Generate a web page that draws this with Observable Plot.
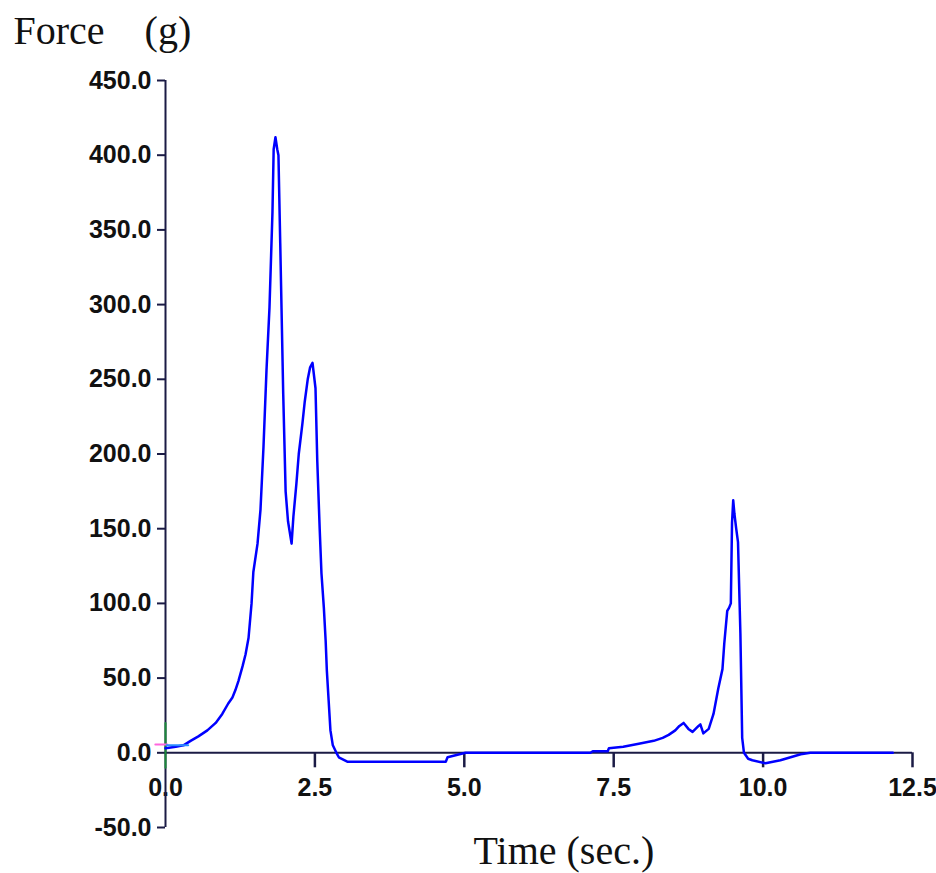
<!DOCTYPE html>
<html>
<head>
<meta charset="utf-8">
<script src="https://cdn.jsdelivr.net/npm/d3@7"></script>
<script src="https://cdn.jsdelivr.net/npm/@observablehq/plot@0.6"></script>
<style>
  html, body { margin: 0; padding: 0; background: #ffffff; }
</style>
</head>
<body>
<div id="chart"></div>
<script>
// Time (sec.) and Force (g)
const time = [0, 0.17, 0.30, 0.42, 0.55, 0.70, 0.84, 0.95, 1.05, 1.12, 1.17, 1.22, 1.29, 1.34, 1.39, 1.44, 1.47, 1.54, 1.59, 1.64, 1.69, 1.74, 1.79, 1.81, 1.84, 1.87, 1.89, 1.92, 1.97, 2.01, 2.05, 2.11, 2.14, 2.19, 2.23, 2.29, 2.33, 2.38, 2.42, 2.46, 2.51, 2.54, 2.58, 2.61, 2.65, 2.68, 2.70, 2.73, 2.76, 2.80, 2.86, 2.90, 3.05, 4.69, 4.72, 5.02, 7.11, 7.15, 7.40, 7.42, 7.66, 7.92, 8.17, 8.32, 8.42, 8.53, 8.60, 8.67, 8.75, 8.82, 8.92, 8.95, 9.00, 9.09, 9.17, 9.25, 9.32, 9.35, 9.40, 9.43, 9.46, 9.48, 9.50, 9.52, 9.55, 9.58, 9.62, 9.65, 9.68, 9.75, 9.82, 10.04, 10.29, 10.46, 10.63, 10.79, 12.17];
const force = [3, 4, 5, 8, 11, 15, 20, 26, 33, 37, 42, 48, 58, 66, 77, 100, 121, 140, 163, 205, 256, 298, 362, 404, 412, 404, 400, 341, 240, 175, 155, 140, 158, 180, 200, 220, 235, 250, 258, 261, 244, 195, 150, 120, 97, 75, 55, 35, 15, 5, 0, -3, -6, -6, -3, 0, 0, 1, 1, 3, 4, 6, 8, 10, 12, 15, 18, 20, 16, 14, 18, 19, 13, 16, 26, 43, 56, 73, 95, 97, 100, 154, 169, 160, 150, 141, 80, 10, 0, -4, -5, -7, -5, -3, -1, 0, 0];

// small start markers near the origin
const greenTime = [0, 0];
const greenForce = [-10, 20];
const pinkTime = [-0.17, 0.03];
const pinkForce = [5.5, 5.5];
const cyanTime = [0.02, 0.38];
const cyanForce = [5, 5];

const xTicks = [0, 2.5, 5.0, 7.5, 10.0, 12.5];
const yTicks = [-50, 0, 50, 100, 150, 200, 250, 300, 350, 400, 450];
const xTitle = "Time (sec.)";
const yTitle = "Force\u00a0\u00a0\u00a0\u00a0(g)";

const data = time.map((t, i) => ({t, f: force[i]}));
const green = greenTime.map((t, i) => ({t, f: greenForce[i]}));
const pink = pinkTime.map((t, i) => ({t, f: pinkForce[i]}));
const cyan = cyanTime.map((t, i) => ({t, f: cyanForce[i]}));

const W = 936, H = 873, mTop = 80, mBottom = 46, mLeft = 165, mRight = 24;
const yDomain = [-50, 450];
// x tick length: 15px expressed in y units
const tickDepth = 15 * (yDomain[1] - yDomain[0]) / (H - mTop - mBottom);

const axisColor = "#1b1b45";
const tickFont = {fontFamily: "Liberation Sans, Arial, sans-serif", fontWeight: "bold", fontSize: 25, fill: "#111"};
const titleFont = {fontFamily: "Liberation Serif, Times New Roman, serif", fontSize: 40, fill: "#111"};

const chart = Plot.plot({
  width: W,
  height: H,
  marginLeft: mLeft,
  marginRight: mRight,
  marginTop: mTop,
  marginBottom: mBottom,
  style: {background: "#ffffff", overflow: "visible"},
  x: {domain: [0, 12.5], axis: null},
  y: {domain: yDomain, axis: null},
  marks: [
    Plot.ruleY([0], {x1: 0, x2: 12.5, stroke: axisColor, strokeWidth: 2}),
    Plot.ruleX(xTicks.filter(d => d > 0), {x: d => d, y1: 0, y2: -tickDepth, stroke: axisColor, strokeWidth: 2.5}),
    Plot.text(xTicks, {x: d => d, y: 0, dy: 35, text: d => d.toFixed(1), ...tickFont}),
    Plot.ruleY(yTicks, {y: d => d, x1: 0, x2: 0, insetLeft: -8, stroke: axisColor, strokeWidth: 2}),
    Plot.text(yTicks, {x: 0, y: d => d, dx: -14, textAnchor: "end", text: d => d.toFixed(1), ...tickFont}),
    Plot.ruleX([0], {y1: -50, y2: 450, stroke: axisColor, strokeWidth: 2}),
    Plot.line(green, {x: "t", y: "f", stroke: "#1a8a3a", strokeWidth: 2}),
    Plot.line(pink, {x: "t", y: "f", stroke: "#ff66dd", strokeWidth: 2}),
    Plot.line(data, {x: "t", y: "f", stroke: "#0000ff", strokeWidth: 2.5}),
    Plot.line(cyan, {x: "t", y: "f", stroke: "#2b8cff", strokeWidth: 2}),
    Plot.text([yTitle], {frameAnchor: "top-left", dx: -152, dy: -65, lineAnchor: "top", textAnchor: "start", text: d => d, ...titleFont}),
    Plot.text([xTitle], {frameAnchor: "bottom-left", dx: 308, dy: 8, lineAnchor: "top", textAnchor: "start", text: d => d, ...titleFont})
  ]
});
document.getElementById("chart").append(chart);
</script>
</body>
</html>
